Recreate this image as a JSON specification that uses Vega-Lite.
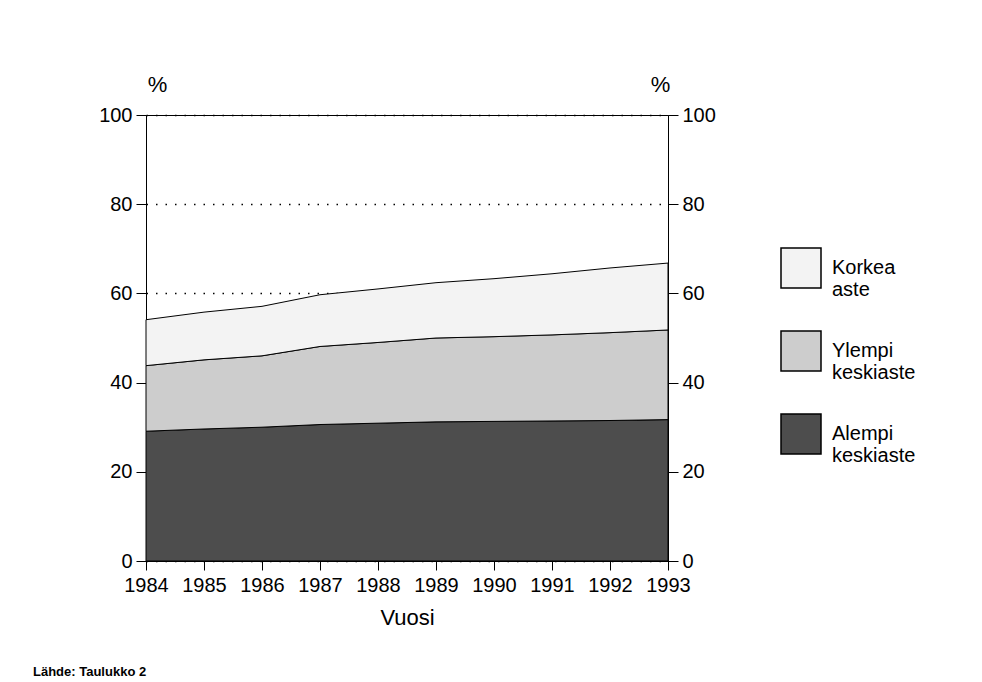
{
  "$schema": "https://vega.github.io/schema/vega-lite/v6.json",
  "width": 522,
  "height": 446,
  "autosize": {"type": "none"},
  "padding": {"left": 146, "top": 115, "right": 314, "bottom": 121},
  "background": "white",
  "title": {
    "text": "Lähde: Taulukko 2",
    "orient": "bottom",
    "anchor": "start",
    "frame": "group",
    "font": "Liberation Sans",
    "fontSize": 13,
    "fontWeight": "bold",
    "color": "black",
    "dx": -113,
    "offset": 38
  },
  "config": {
    "view": {"stroke": "black", "strokeWidth": 1},
    "axis": {
      "domainColor": "black",
      "tickColor": "black",
      "labelColor": "black",
      "titleColor": "black",
      "labelFont": "Liberation Sans",
      "titleFont": "Liberation Sans",
      "labelFontSize": 20,
      "titleFontWeight": "normal",
      "tickSize": 10,
      "labelPadding": 4,
      "labelOverlap": false,
      "labelFlush": false
    },
    "legend": {
      "labelFont": "Liberation Sans",
      "labelFontSize": 20,
      "labelColor": "black"
    }
  },
  "data": {
    "values": [
      {"year": 1984, "group": "Alempi keskiaste", "ord": 1, "value": 29.1},
      {"year": 1985, "group": "Alempi keskiaste", "ord": 1, "value": 29.6},
      {"year": 1986, "group": "Alempi keskiaste", "ord": 1, "value": 30.0},
      {"year": 1987, "group": "Alempi keskiaste", "ord": 1, "value": 30.6},
      {"year": 1988, "group": "Alempi keskiaste", "ord": 1, "value": 30.9},
      {"year": 1989, "group": "Alempi keskiaste", "ord": 1, "value": 31.2},
      {"year": 1990, "group": "Alempi keskiaste", "ord": 1, "value": 31.3},
      {"year": 1991, "group": "Alempi keskiaste", "ord": 1, "value": 31.4},
      {"year": 1992, "group": "Alempi keskiaste", "ord": 1, "value": 31.5},
      {"year": 1993, "group": "Alempi keskiaste", "ord": 1, "value": 31.7},
      {"year": 1984, "group": "Ylempi keskiaste", "ord": 2, "value": 14.7},
      {"year": 1985, "group": "Ylempi keskiaste", "ord": 2, "value": 15.5},
      {"year": 1986, "group": "Ylempi keskiaste", "ord": 2, "value": 16.0},
      {"year": 1987, "group": "Ylempi keskiaste", "ord": 2, "value": 17.5},
      {"year": 1988, "group": "Ylempi keskiaste", "ord": 2, "value": 18.1},
      {"year": 1989, "group": "Ylempi keskiaste", "ord": 2, "value": 18.8},
      {"year": 1990, "group": "Ylempi keskiaste", "ord": 2, "value": 19.0},
      {"year": 1991, "group": "Ylempi keskiaste", "ord": 2, "value": 19.3},
      {"year": 1992, "group": "Ylempi keskiaste", "ord": 2, "value": 19.7},
      {"year": 1993, "group": "Ylempi keskiaste", "ord": 2, "value": 20.1},
      {"year": 1984, "group": "Korkea aste", "ord": 3, "value": 10.3},
      {"year": 1985, "group": "Korkea aste", "ord": 3, "value": 10.7},
      {"year": 1986, "group": "Korkea aste", "ord": 3, "value": 11.1},
      {"year": 1987, "group": "Korkea aste", "ord": 3, "value": 11.6},
      {"year": 1988, "group": "Korkea aste", "ord": 3, "value": 12.0},
      {"year": 1989, "group": "Korkea aste", "ord": 3, "value": 12.4},
      {"year": 1990, "group": "Korkea aste", "ord": 3, "value": 13.0},
      {"year": 1991, "group": "Korkea aste", "ord": 3, "value": 13.7},
      {"year": 1992, "group": "Korkea aste", "ord": 3, "value": 14.5},
      {"year": 1993, "group": "Korkea aste", "ord": 3, "value": 15.0}
    ]
  },
  "resolve": {"axis": {"y": "independent"}},
  "layer": [
    {
      "mark": {"type": "area", "stroke": "black", "strokeWidth": 1, "opacity": 1},
      "encoding": {
        "x": {
          "field": "year",
          "type": "quantitative",
          "scale": {"domain": [1984, 1993], "nice": false, "zero": false},
          "axis": {
            "values": [1984, 1985, 1986, 1987, 1988, 1989, 1990, 1991, 1992, 1993],
            "format": "d",
            "title": "Vuosi",
            "titleFontSize": 22,
            "titlePadding": 12,
            "labelPadding": 5,
            "tickSize": 9,
            "grid": false
          }
        },
        "y": {
          "field": "value",
          "type": "quantitative",
          "stack": "zero",
          "scale": {"domain": [0, 100], "nice": false},
          "axis": {
            "values": [0, 20, 40, 60, 80, 100],
            "orient": "left",
            "title": "%",
            "titleAngle": 0,
            "titleFontSize": 22,
            "titleAlign": "center",
            "titleBaseline": "middle",
            "titleAnchor": null,
            "titleX": 11,
            "titleY": -31,
            "grid": true,
            "gridColor": "black",
            "gridDash": [1.5, 8],
            "gridWidth": 1.5
          }
        },
        "color": {
          "field": "group",
          "type": "nominal",
          "scale": {
            "domain": ["Korkea aste", "Ylempi keskiaste", "Alempi keskiaste"],
            "range": ["#f3f3f3", "#cdcdcd", "#4d4d4d"]
          },
          "legend": {
            "title": null,
            "orient": "none",
            "legendX": 634,
            "legendY": 132,
            "symbolType": "square",
            "symbolSize": 1600,
            "symbolStrokeColor": "black",
            "symbolStrokeWidth": 1.5,
            "symbolOpacity": 1,
            "labelExpr": "split(datum.label, ' ')",
            "labelOffset": 10,
            "rowPadding": 28,
            "labelBaseline": "middle"
          }
        },
        "order": {"field": "ord", "type": "quantitative"}
      }
    },
    {
      "mark": {"type": "line", "opacity": 0},
      "encoding": {
        "x": {"field": "year", "type": "quantitative"},
        "y": {
          "field": "value",
          "type": "quantitative",
          "axis": {
            "values": [0, 20, 40, 60, 80, 100],
            "orient": "right",
            "title": "%",
            "titleAngle": 0,
            "titleFontSize": 22,
            "titleAlign": "center",
            "titleBaseline": "middle",
            "titleAnchor": null,
            "titleX": -8,
            "titleY": -31,
            "grid": false
          }
        },
        "detail": {"field": "group"}
      }
    }
  ]
}
